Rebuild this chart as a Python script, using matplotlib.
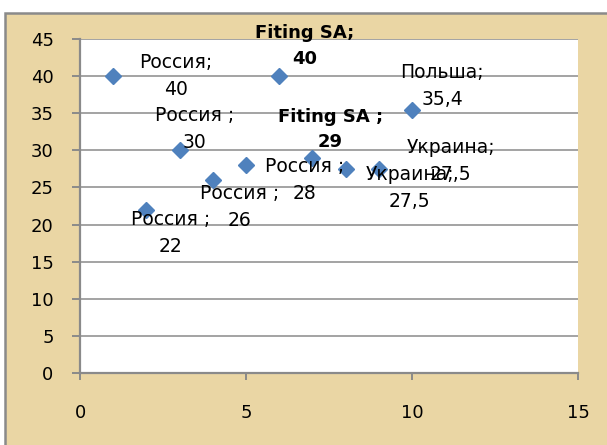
import matplotlib
matplotlib.use("Agg")
import matplotlib.pyplot as plt
from matplotlib.patches import Rectangle

# ---- data ----
x_vals = [1, 6, 3, 2, 4, 5, 7, 8, 9, 10]
y_vals = [40, 40, 30, 22, 26, 28, 29, 27.5, 27.5, 35.4]
names = ["Россия;", "Fiting SA;", "Россия ;", "Россия ;", "Россия ;",
         "Россия ;", "Fiting SA ;", "Украина;", "Украина;", "Польша;"]
value_text = ["40", "40", "30", "22", "26", "28", "29", "27,5", "27,5", "35,4"]
bold_flags = [False, True, False, False, False, False, True, False, False, False]
x_ticks = [0, 5, 10, 15]
y_ticks = [0, 5, 10, 15, 20, 25, 30, 35, 40, 45]

# label offsets in pixels (dx right, dy down)
offsets = [(63, 0), (25, -30), (15, -21), (24, 23), (27, 27),
           (59, 15), (18, -28), (64, 19), (72, -8), (30, -24)]

W, H = 607, 445
fig = plt.figure(figsize=(W / 100, H / 100), dpi=100, facecolor="white")
font = ["DejaVu Sans"]
plt.rcParams["font.family"] = font

# parchment frame
fig.patches.append(Rectangle((5 / W, -0.05), 1.2, (H - 13) / H + 0.05,
                             transform=fig.transFigure, facecolor="#EAD6A4",
                             edgecolor="#8A8A8A", linewidth=1.8, zorder=-10))

ax = fig.add_axes([80 / W, (H - 373) / H, 498 / W, 334 / H])
ax.set_zorder(5)
ax.set_facecolor("white")
ax.set_xlim(0, 15)
ax.set_ylim(0, 45)
ax.set_xticks(x_ticks)
ax.set_yticks(y_ticks)
ax.yaxis.grid(True, color="#8A8A8A", linewidth=1.1)
ax.set_axisbelow(True)
for s in ["top", "right"]:
    ax.spines[s].set_visible(False)
for s in ["left", "bottom"]:
    ax.spines[s].set_color("#8A8A8A")
    ax.spines[s].set_linewidth(1.6)
ax.tick_params(axis="y", direction="out", length=6, width=1.4, color="#8A8A8A",
               pad=13, labelsize=13)
ax.tick_params(axis="x", direction="out", length=5, width=1.4, color="#8A8A8A",
               pad=17, labelsize=13)

ax.plot(x_vals, y_vals, linestyle="none", marker="D", markersize=8.5,
        color="#4F81BD", zorder=3, clip_on=False)

for xv, yv, nm, vt, b, (dx, dy) in zip(x_vals, y_vals, names, value_text,
                                       bold_flags, offsets):
    ax.annotate(nm + "\n" + vt, (xv, yv), xytext=(dx, -dy),
                textcoords="offset pixels", ha="center", va="center",
                multialignment="center", fontsize=13.5 if not b else 13,
                linespacing=1.53,
                fontweight="bold" if b else "normal", family=font,
                annotation_clip=False, zorder=4)

fig.savefig("out.png", dpi=100, facecolor="white")
